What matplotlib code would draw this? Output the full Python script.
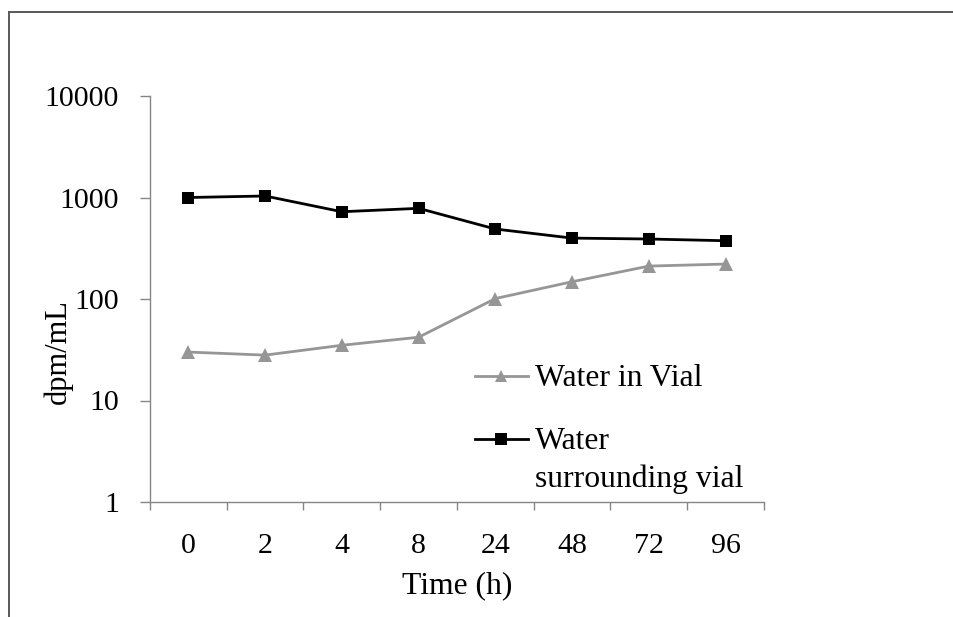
import matplotlib
matplotlib.use("Agg")
import matplotlib.pyplot as plt
from matplotlib.lines import Line2D
from matplotlib.ticker import FixedLocator, NullFormatter, NullLocator

plt.rcParams['font.family'] = ['Liberation Serif', 'DejaVu Serif']

time_labels = ['0', '2', '4', '8', '24', '48', '72', '96']
water_in_vial = [30, 28, 35, 42, 101, 148, 211, 221]
water_surrounding = [1000, 1035, 724, 782, 489, 398, 390, 375]

axis_grey = '#868686'
vial_grey = '#969696'
FS = 21.5
FS_TEXT = 22.8
W, H = 954, 617


def px(x, y):
    # pixel position (from top-left) to figure fraction
    return x / W, 1 - y / H


fig = plt.figure(figsize=(W / 100, H / 100), dpi=100)

# outer chart frame (left and top edges visible)
x0, y0 = px(9.5, 12)
fig.add_artist(Line2D([x0, x0], [0, y0], transform=fig.transFigure,
                      color='#595959', lw=1.4))
fig.add_artist(Line2D([x0, 1], [y0, y0], transform=fig.transFigure,
                      color='#595959', lw=1.4))

ax = fig.add_axes([150 / W, 115 / H, 614 / W, 406 / H])
x = list(range(len(time_labels)))

ax.plot(x, water_in_vial, color=vial_grey, lw=2, marker='^', ms=10.5,
        markeredgewidth=0, clip_on=False)
ax.plot(x, water_surrounding, color='black', lw=2, marker='s', ms=8.8,
        markeredgewidth=0, clip_on=False)

ax.set_yscale('log')
ax.set_ylim(1, 10000)
ax.set_xlim(-0.5, len(time_labels) - 0.5)

ax.yaxis.set_major_locator(FixedLocator([1, 10, 100, 1000, 10000]))
ax.yaxis.set_minor_locator(NullLocator())
ax.set_yticklabels(['1', '10', '100', '1000', '10000'])

# labels centred on categories, tick marks between them
ax.set_xticks(x)
ax.set_xticklabels(time_labels)
ax.xaxis.set_minor_locator(FixedLocator([i - 0.5 for i in range(len(time_labels) + 1)]))
ax.xaxis.set_minor_formatter(NullFormatter())
ax.tick_params(axis='x', which='major', length=0, pad=22, labelsize=FS)
ax.tick_params(axis='x', which='minor', length=6, width=1, color=axis_grey,
               direction='out')
ax.tick_params(axis='y', which='major', length=7.2, width=1, color=axis_grey,
               direction='out', pad=15, labelsize=FS)

for side in ['top', 'right']:
    ax.spines[side].set_visible(False)
for side in ['left', 'bottom']:
    ax.spines[side].set_color(axis_grey)
    ax.spines[side].set_linewidth(1)

ax.set_xlabel('Time (h)', fontsize=FS_TEXT, labelpad=9)
ax.set_ylabel('dpm/mL', fontsize=22)
ax.yaxis.set_label_coords(-0.125, 0.37)

# legend, drawn by hand so the square sits on the first line of its label
legend_rows = [
    (376, vial_grey, '^', 8.5, ['Water in Vial'], 386),
    (439, 'black', 's', 8.5, ['Water', 'surrounding vial'], 449),
]
for ly, color, mk, ms, lines, base in legend_rows:
    lx0, lyf = px(475, ly)
    lx1, _ = px(528, ly)
    fig.add_artist(Line2D([lx0, lx1], [lyf, lyf], transform=fig.transFigure,
                          color=color, lw=2))
    mx, _ = px(501.5, ly)
    fig.add_artist(Line2D([mx], [lyf], transform=fig.transFigure, color=color,
                          marker=mk, ms=ms, markeredgewidth=0, lw=0))
    for i, s in enumerate(lines):
        tx, ty = px(535, base + 38 * i)
        fig.text(tx, ty, s, fontsize=FS_TEXT, ha='left', va='baseline')

fig.savefig('out.png', dpi=100)
